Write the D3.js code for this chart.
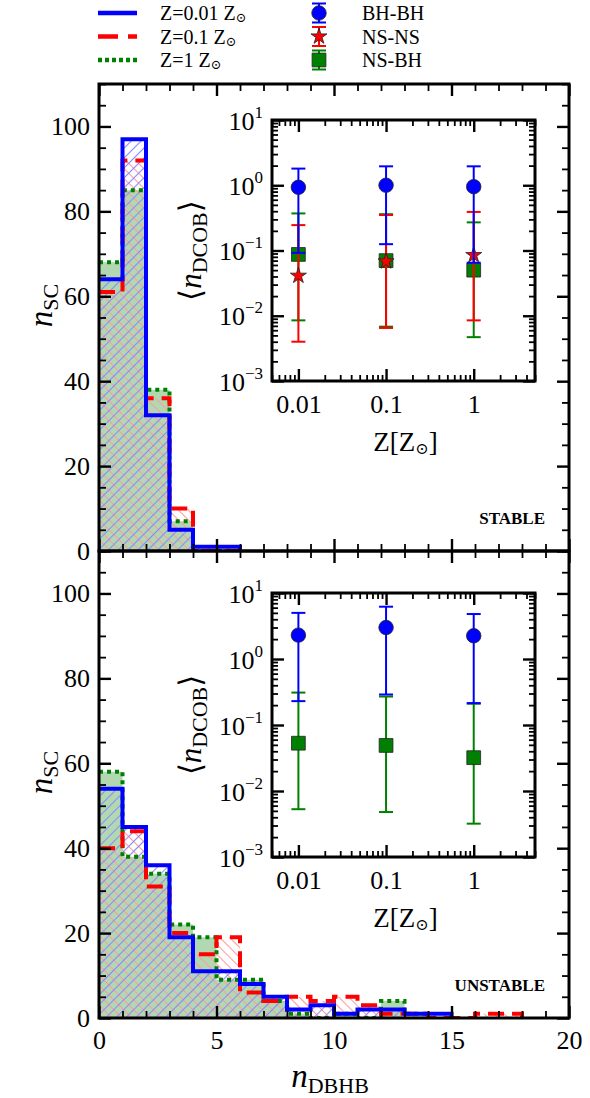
<!DOCTYPE html>
<html>
<head>
<meta charset="utf-8">
<script src="https://cdn.jsdelivr.net/npm/d3@7"></script>
<style>
body { margin: 0; background: #fff; }
text { font-family: "Liberation Serif", "Times New Roman", "DejaVu Serif", serif; }
</style>
</head>
<body>
<svg width="590" height="1098"></svg>
<script>
// histogram counts per bin of n_DBHB (bin width 1, starting at 0)
var stableZ001 = [64, 97, 32, 5, 1, 1];
var stableZ01 = [61, 92, 36, 10, 0, 0];
var stableZ1 = [68, 85, 38, 7, 0, 0];
var unstableZ001 = [54, 45, 36, 19, 11, 11, 8, 5, 2, 3, 1, 2, 2, 1, 1];
var unstableZ01 = [40, 44, 31, 20, 15, 19, 6, 4, 5, 4, 5, 3, 1, 1, 0, 0, 1, 1];
var unstableZ1 = [58, 38, 34, 22, 19, 9, 9, 4, 1, 0, 1, 0, 4, 1];

// inset: mean number of double compact objects vs metallicity
var zValues = [0.01, 0.1, 1];
var stableBHBH = [0.93, 1.0, 0.95], stableBHBHlo = [0.092, 0.125, 0.065], stableBHBHhi = [1.8, 1.95, 1.95];
var stableNSNS = [0.041, 0.068, 0.085], stableNSNSlo = [0.004, 0.0065, 0.0085], stableNSNShi = [0.245, 0.35, 0.39];
var stableNSBH = [0.087, 0.07, 0.05], stableNSBHlo = [0.0085, 0.0068, 0.0047], stableNSBHhi = [0.37, 0.36, 0.27];
var unstableBHBH = [2.3, 3.0, 2.25], unstableBHBHlo = [0.23, 0.29, 0.215], unstableBHBHhi = [5.0, 6.2, 4.8];
var unstableNSBH = [0.053, 0.049, 0.032], unstableNSBHlo = [0.0053, 0.0048, 0.0032], unstableNSBHhi = [0.31, 0.27, 0.21];

// ticks / labels
var xMajor = [0, 5, 10, 15, 20];
var yMajor = [0, 20, 40, 60, 80, 100];
var zTicks = [0.01, 0.1, 1];
var nTicks = [1e-3, 1e-2, 1e-1, 1, 10];
var lineLabels = ["Z=0.01 Z", "Z=0.1 Z", "Z=1 Z"];
var pointLabels = ["BH-BH", "NS-NS", "NS-BH"];

var SERIF = '"Liberation Serif", "Times New Roman", "DejaVu Serif", serif';
var BLUE = "#0000ff", RED = "#ff0000", GREEN = "#008000";

var svg = d3.select("svg");
var defs = svg.append("defs");

function hatch(id, angle, color) {
  var p = defs.append("pattern").attr("id", id)
    .attr("patternUnits", "userSpaceOnUse")
    .attr("width", 7).attr("height", 7)
    .attr("patternTransform", "rotate(" + angle + ")");
  p.append("line").attr("x1", 3.5).attr("y1", 0).attr("x2", 3.5).attr("y2", 7)
    .attr("stroke", color).attr("stroke-width", 1.1);
}
hatch("hatchBlue", 45, "#8a8aff");
hatch("hatchRed", -45, "#ff9a9a");

var x = d3.scaleLinear().domain([0, 20]).range([99, 569]);
var zx = d3.scaleLog().domain([0.005, 5]).range([272, 535]);

// draws a set of ticks (inward) with d3 axes
function ticks(g, axis, tr, vals, len, withLabels, fs) {
  var a = axis.tickValues(vals).tickSize(-len).tickPadding(9);
  if (!withLabels) a.tickFormat("");
  var s = g.append("g").attr("transform", tr).call(a);
  s.select(".domain").remove();
  s.selectAll("line").attr("stroke", "#000").attr("stroke-width", len > 8 ? 2.4 : 1.8);
  s.selectAll("text").attr("fill", "#000").attr("font-size", fs).attr("font-family", SERIF);
  return s;
}

function minorLog(lo, hi) {
  var out = [];
  for (var e = Math.floor(Math.log10(lo)); e <= Math.ceil(Math.log10(hi)); e++) {
    for (var m = 2; m <= 9; m++) {
      var v = m * Math.pow(10, e);
      if (v >= lo * 0.999 && v <= hi * 1.001) out.push(v);
    }
  }
  return out;
}

function stepPts(v, close) {
  var a = v.map(function(d, i) { return [i, d]; });
  a.push([v.length, v[v.length - 1]]);
  if (close) a.push([v.length, 0]);
  return a;
}

function drawPanel(idx, label, yBottom, hists, inset) {
  var y = d3.scaleLinear().domain([0, 110]).range([yBottom, yBottom - 467]);
  var g = svg.append("g");

  defs.append("clipPath").attr("id", "clip" + idx)
    .append("rect").attr("x", x(0)).attr("y", y(110))
    .attr("width", x(20) - x(0)).attr("height", y(0) - y(110));
  var c = g.append("g").attr("clip-path", "url(#clip" + idx + ")");

  var area = d3.area().curve(d3.curveStepAfter)
    .x(function(d) { return x(d[0]); }).y0(y(0)).y1(function(d) { return y(d[1]); });
  var line = d3.line().curve(d3.curveStepAfter)
    .x(function(d) { return x(d[0]); }).y(function(d) { return y(d[1]); });

  // hists: [Z=0.01, Z=0.1, Z=1]
  c.append("path").attr("d", area(stepPts(hists[2]))).attr("fill", "#b2d8b2");
  c.append("path").attr("d", area(stepPts(hists[1]))).attr("fill", "url(#hatchRed)");
  c.append("path").attr("d", area(stepPts(hists[0]))).attr("fill", "url(#hatchBlue)");
  c.append("path").attr("d", line(stepPts(hists[2], true))).attr("fill", "none")
    .attr("stroke", GREEN).attr("stroke-width", 4).attr("stroke-dasharray", "4,4");
  c.append("path").attr("d", line(stepPts(hists[1], true))).attr("fill", "none")
    .attr("stroke", RED).attr("stroke-width", 4).attr("stroke-dasharray", "16,8");
  c.append("path").attr("d", line(stepPts(hists[0], true))).attr("fill", "none")
    .attr("stroke", BLUE).attr("stroke-width", 4);

  // frame and ticks
  g.append("rect").attr("x", x(0)).attr("y", y(110))
    .attr("width", x(20) - x(0)).attr("height", y(0) - y(110))
    .attr("fill", "none").attr("stroke", "#000").attr("stroke-width", 3);
  var xMinor = d3.range(0, 21).filter(function(d) { return d % 5 !== 0; });
  var yMinor = d3.range(0, 111, 5).filter(function(d) { return d % 20 !== 0; });
  var bx = ticks(g, d3.axisBottom(x), "translate(0," + y(0) + ")", xMajor, 12, idx === 1, 26);
  bx.selectAll("text").attr("dy", "0.85em");
  ticks(g, d3.axisBottom(x), "translate(0," + y(0) + ")", xMinor, 7, false, 26);
  ticks(g, d3.axisTop(x), "translate(0," + y(110) + ")", xMajor, 12, false, 26);
  ticks(g, d3.axisTop(x), "translate(0," + y(110) + ")", xMinor, 7, false, 26);
  ticks(g, d3.axisLeft(y), "translate(" + x(0) + ",0)", yMajor, 12, true, 26);
  ticks(g, d3.axisLeft(y), "translate(" + x(0) + ",0)", yMinor, 7, false, 26);
  ticks(g, d3.axisRight(y), "translate(" + x(20) + ",0)", yMajor, 12, false, 26);
  ticks(g, d3.axisRight(y), "translate(" + x(20) + ",0)", yMinor, 7, false, 26);

  // y label
  var yl = g.append("text")
    .attr("transform", "translate(52," + (y(55) - 12) + ") rotate(-90)")
    .attr("text-anchor", "middle").attr("font-size", 33);
  yl.append("tspan").attr("font-style", "italic").text("n");
  yl.append("tspan").attr("font-size", 22).attr("dy", 6).text("SC");

  g.append("text").attr("x", 545).attr("y", y(0) - 27)
    .attr("text-anchor", "end").attr("font-weight", "bold").attr("font-size", 17)
    .text(label);

  // inset
  var ny = d3.scaleLog().domain([1e-3, 10]).range([inset.bottom, inset.top]);
  var ig = g.append("g");
  ig.append("rect").attr("x", zx(0.005)).attr("y", ny(10))
    .attr("width", zx(5) - zx(0.005)).attr("height", ny(1e-3) - ny(10))
    .attr("fill", "#fff");

  var zMinor = minorLog(0.005, 5);
  var nMinor = minorLog(1e-3, 10);
  var bl = ticks(ig, d3.axisBottom(zx), "translate(0," + ny(1e-3) + ")", zTicks, 12, true, 26);
  bl.selectAll("text").attr("dy", "0.9em").text(function(d) { return String(d); });
  ticks(ig, d3.axisBottom(zx), "translate(0," + ny(1e-3) + ")", zMinor, 6, false, 26);
  ticks(ig, d3.axisTop(zx), "translate(0," + ny(10) + ")", zTicks, 12, false, 26);
  ticks(ig, d3.axisTop(zx), "translate(0," + ny(10) + ")", zMinor, 6, false, 26);
  var ll = ticks(ig, d3.axisLeft(ny), "translate(" + zx(0.005) + ",0)", nTicks, 12, true, 26);
  ll.selectAll("text").attr("dy", "0.35em").text(null).each(function(d) {
    var t = d3.select(this);
    var e = Math.round(Math.log10(d));
    t.append("tspan").text("10");
    t.append("tspan").attr("font-size", 17).attr("dy", -12).text(e < 0 ? "\u2212" + (-e) : String(e));
  });
  ticks(ig, d3.axisLeft(ny), "translate(" + zx(0.005) + ",0)", nMinor, 6, false, 26);
  ticks(ig, d3.axisRight(ny), "translate(" + zx(5) + ",0)", nTicks, 12, false, 26);
  ticks(ig, d3.axisRight(ny), "translate(" + zx(5) + ",0)", nMinor, 6, false, 26);

  inset.series.forEach(function(s) {
    var sg = ig.append("g");
    zValues.forEach(function(z, i) {
      var cx = zx(z);
      sg.append("line").attr("x1", cx).attr("x2", cx)
        .attr("y1", ny(s.lo[i])).attr("y2", ny(s.hi[i]))
        .attr("stroke", s.color).attr("stroke-width", 2);
      [s.lo[i], s.hi[i]].forEach(function(v) {
        sg.append("line").attr("x1", cx - 7).attr("x2", cx + 7)
          .attr("y1", ny(v)).attr("y2", ny(v))
          .attr("stroke", s.color).attr("stroke-width", 2);
      });
    });
    sg.selectAll("path.m").data(s.mean).enter().append("path")
      .attr("class", "m")
      .attr("transform", function(d, i) { return "translate(" + zx(zValues[i]) + "," + ny(d) + ")"; })
      .attr("d", d3.symbol().type(s.symbol).size(s.size))
      .attr("fill", s.color).attr("stroke", "#222").attr("stroke-width", 0.8);
  });

  ig.append("rect").attr("x", zx(0.005)).attr("y", ny(10))
    .attr("width", zx(5) - zx(0.005)).attr("height", ny(1e-3) - ny(10))
    .attr("fill", "none").attr("stroke", "#000").attr("stroke-width", 3);

  var il = ig.append("text")
    .attr("transform", "translate(201," + ((ny(10) + ny(1e-3)) / 2) + ") rotate(-90)")
    .attr("text-anchor", "middle").attr("font-size", 31);
  il.append("tspan").attr("font-family", "DejaVu Sans").attr("font-weight", "200").text("\u27E8");
  il.append("tspan").attr("font-style", "italic").text("n");
  il.append("tspan").attr("font-size", 22).attr("dy", 6).text("DCOB");
  il.append("tspan").attr("dy", -6).attr("font-family", "DejaVu Sans").text("\u27E9");

  var zl = ig.append("text").attr("x", (zx(0.005) + zx(5)) / 2 + 2).attr("y", ny(1e-3) + 70)
    .attr("text-anchor", "middle").attr("font-size", 27);
  zl.append("tspan").text("Z[Z");
  zl.append("tspan").attr("font-size", 16).attr("dy", 3).text("\u2299");
  zl.append("tspan").attr("dy", -3).text("]");
}

drawPanel(0, "STABLE", 551, [stableZ001, stableZ01, stableZ1], {
  top: 120, bottom: 381,
  series: [
    {mean: stableNSBH, lo: stableNSBHlo, hi: stableNSBHhi, color: GREEN, symbol: d3.symbolSquare, size: 190},
    {mean: stableNSNS, lo: stableNSNSlo, hi: stableNSNShi, color: RED, symbol: d3.symbolStar, size: 80},
    {mean: stableBHBH, lo: stableBHBHlo, hi: stableBHBHhi, color: BLUE, symbol: d3.symbolCircle, size: 165}
  ]
});
drawPanel(1, "UNSTABLE", 1018, [unstableZ001, unstableZ01, unstableZ1], {
  top: 593, bottom: 857,
  series: [
    {mean: unstableNSBH, lo: unstableNSBHlo, hi: unstableNSBHhi, color: GREEN, symbol: d3.symbolSquare, size: 190},
    {mean: unstableBHBH, lo: unstableBHBHlo, hi: unstableBHBHhi, color: BLUE, symbol: d3.symbolCircle, size: 165}
  ]
});

// x label
var xl = svg.append("text").attr("x", 330).attr("y", 1087)
  .attr("text-anchor", "middle").attr("font-size", 33);
xl.append("tspan").attr("font-style", "italic").text("n");
xl.append("tspan").attr("font-size", 22).attr("dy", 6).text("DBHB");

// legend
var legY = d3.scalePoint().domain([0, 1, 2]).range([13, 60]);
var lineStyles = [
  {color: BLUE, dash: null},
  {color: RED, dash: "20,10"},
  {color: GREEN, dash: "4,3"}
];
var leg = svg.append("g");
lineLabels.forEach(function(t, i) {
  leg.append("line").attr("x1", 98).attr("x2", 137).attr("y1", legY(i)).attr("y2", legY(i))
    .attr("stroke", lineStyles[i].color).attr("stroke-width", 4.5)
    .attr("stroke-dasharray", lineStyles[i].dash);
  var tx = leg.append("text").attr("x", 160).attr("y", legY(i) + 7).attr("font-size", 20);
  tx.append("tspan").text(t);
  tx.append("tspan").attr("font-size", 13).attr("dy", 2).text("\u2299");
});
var pointStyles = [
  {color: BLUE, symbol: d3.symbolCircle, size: 165},
  {color: RED, symbol: d3.symbolStar, size: 80},
  {color: GREEN, symbol: d3.symbolSquare, size: 190}
];
pointLabels.forEach(function(t, i) {
  var cy = legY(i), cx = 319, st = pointStyles[i];
  leg.append("line").attr("x1", cx).attr("x2", cx).attr("y1", cy - 9.5).attr("y2", cy + 9.5)
    .attr("stroke", st.color).attr("stroke-width", 2);
  [-9.5, 9.5].forEach(function(o) {
    leg.append("line").attr("x1", cx - 7).attr("x2", cx + 7).attr("y1", cy + o).attr("y2", cy + o)
      .attr("stroke", st.color).attr("stroke-width", 2);
  });
  leg.append("path").attr("transform", "translate(" + cx + "," + cy + ")")
    .attr("d", d3.symbol().type(st.symbol).size(st.size))
    .attr("fill", st.color).attr("stroke", "#222").attr("stroke-width", 0.8);
  leg.append("text").attr("x", 362).attr("y", cy + 7).attr("font-size", 20).text(t);
});
</script>
</body>
</html>
